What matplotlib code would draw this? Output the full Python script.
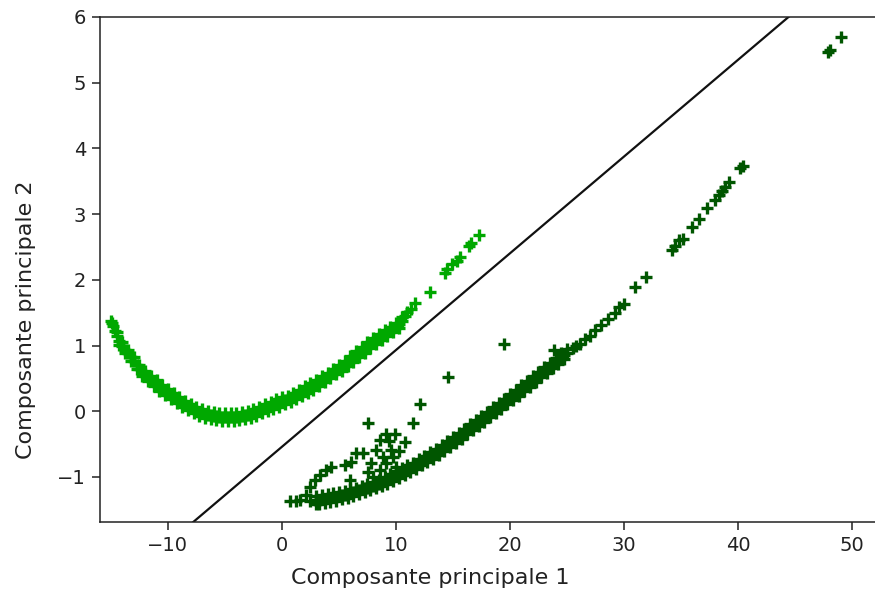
import matplotlib
matplotlib.use("Agg")
import matplotlib.pyplot as plt
import numpy as np

# ---------------- data ----------------
# light green cluster (upper band, lower band, centre band, isolated points)
light_x_up = [-14.5, -14.0, -13.5, -13.0, -12.5, -12.0, -11.5, -11.0, -10.5, -10.0,
              -9.5, -9.0, -8.5, -8.0, -7.5, -7.0, -6.5, -6.0, -5.5, -5.0,
              -4.5, -4.0, -3.5, -3.0, -2.5, -2.0, -1.5, -1.0, -0.5, 0.0,
              0.5, 1.0, 1.5, 2.0, 2.5, 3.0, 3.5, 4.0, 4.5, 5.0,
              5.5, 6.0, 6.5, 7.0, 7.5, 8.0, 8.5, 9.0, 9.5, 10.0, 10.5]
light_y_up = [1.21, 1.06, 0.94, 0.83, 0.71, 0.62, 0.54, 0.47, 0.40, 0.34,
              0.28, 0.22, 0.16, 0.11, 0.07, 0.03, 0.01, -0.01, -0.02, -0.03,
              -0.03, -0.03, -0.01, 0.01, 0.04, 0.07, 0.11, 0.14, 0.18, 0.21,
              0.24, 0.28, 0.33, 0.38, 0.43, 0.48, 0.53, 0.59, 0.65, 0.71,
              0.77, 0.84, 0.91, 0.98, 1.05, 1.11, 1.17, 1.23, 1.29, 1.35, 1.44]
light_x_lo = [-14.25, -13.75, -13.25, -12.75, -12.25, -11.75, -11.25, -10.75, -10.25, -9.75,
              -9.25, -8.75, -8.25, -7.75, -7.25, -6.75, -6.25, -5.75, -5.25, -4.75,
              -4.25, -3.75, -3.25, -2.75, -2.25, -1.75, -1.25, -0.75, -0.25, 0.25,
              0.75, 1.25, 1.75, 2.25, 2.75, 3.25, 3.75, 4.25, 4.75, 5.25,
              5.75, 6.25, 6.75, 7.25, 7.75, 8.25, 8.75, 9.25, 9.75, 10.25]
light_y_lo = [1.01, 0.88, 0.76, 0.65, 0.54, 0.46, 0.38, 0.31, 0.25, 0.19,
              0.13, 0.07, 0.02, -0.03, -0.07, -0.10, -0.12, -0.13, -0.15, -0.15,
              -0.15, -0.14, -0.12, -0.10, -0.07, -0.03, 0.00, 0.04, 0.07, 0.11,
              0.14, 0.18, 0.23, 0.28, 0.33, 0.39, 0.44, 0.50, 0.56, 0.62,
              0.69, 0.75, 0.82, 0.89, 0.96, 1.02, 1.08, 1.14, 1.20, 1.27]
light_x_mid = [-14.5, -14.25, -14.0, -13.75, -13.5, -13.25, -13.0, -12.75, -12.5, -12.25,
               -12.0, -11.75, -11.5, -11.25, -11.0, -10.75, -10.5, -10.25, -10.0, -9.75,
               -9.5, -9.25, -9.0, -8.75, -8.5, -8.25, -8.0, -7.75, -7.5, -7.25,
               -7.0, -6.75, -6.5, -6.25, -6.0, -5.75, -5.5, -5.25, -5.0, -4.75,
               -4.5, -4.25, -4.0, -3.75, -3.5, -3.25, -3.0, -2.75, -2.5, -2.25,
               -2.0, -1.75, -1.5, -1.25, -1.0, -0.75, -0.5, -0.25, 0.0, 0.25,
               0.5, 0.75, 1.0, 1.25, 1.5, 1.75, 2.0, 2.25, 2.5, 2.75,
               3.0, 3.25, 3.5, 3.75, 4.0, 4.25, 4.5, 4.75, 5.0, 5.25,
               5.5, 5.75, 6.0, 6.25, 6.5, 6.75, 7.0, 7.25, 7.5, 7.75,
               8.0, 8.25, 8.5, 8.75, 9.0, 9.25, 9.5, 9.75, 10.0, 10.25, 10.5]
light_y_mid = [1.15, 1.07, 1.00, 0.94, 0.88, 0.82, 0.77, 0.71, 0.65, 0.60,
               0.56, 0.52, 0.48, 0.44, 0.41, 0.37, 0.34, 0.31, 0.28, 0.25,
               0.22, 0.19, 0.16, 0.13, 0.10, 0.08, 0.05, 0.03, 0.01, -0.01,
               -0.03, -0.04, -0.05, -0.06, -0.07, -0.075, -0.08, -0.085, -0.09, -0.09,
               -0.09, -0.09, -0.09, -0.08, -0.07, -0.06, -0.05, -0.035, -0.02, -0.005,
               0.01, 0.03, 0.05, 0.06, 0.08, 0.10, 0.12, 0.13, 0.15, 0.17,
               0.18, 0.20, 0.22, 0.245, 0.27, 0.295, 0.32, 0.345, 0.37, 0.395,
               0.42, 0.45, 0.47, 0.50, 0.53, 0.56, 0.59, 0.62, 0.65, 0.68,
               0.71, 0.75, 0.78, 0.81, 0.85, 0.885, 0.92, 0.955, 0.99, 1.02,
               1.05, 1.08, 1.11, 1.14, 1.17, 1.20, 1.23, 1.26, 1.29, 1.335, 1.38]
light_x_iso = [-15.0, -14.9, -14.8, -14.65, 10.8, 11.0, 11.3, 11.7, 12.95, 14.26,
               14.5, 14.9, 15.37, 15.6, 16.4, 16.6, 17.28]
light_y_iso = [1.38, 1.34, 1.30, 1.22, 1.45, 1.51, 1.56, 1.65, 1.82, 2.10,
               2.16, 2.24, 2.29, 2.35, 2.51, 2.56, 2.69]

# dark green cluster
dark_x_up = [3.0, 3.5, 4.0, 4.5, 5.0, 5.5, 6.0, 6.5, 7.0, 7.5,
             8.0, 8.5, 9.0, 9.5, 10.0, 10.5, 11.0, 11.5, 12.0, 12.5,
             13.0, 13.5, 14.0, 14.5, 15.0, 15.5, 16.0, 16.5, 17.0, 17.5,
             18.0, 18.5, 19.0, 19.5, 20.0, 20.5, 21.0, 21.5, 22.0, 22.5,
             23.0, 23.5, 24.0, 24.5, 25.0]
dark_y_up = [-1.29, -1.28, -1.265, -1.25, -1.23, -1.21, -1.185, -1.16, -1.13, -1.10,
             -1.07, -1.04, -1.00, -0.96, -0.915, -0.87, -0.825, -0.78, -0.73, -0.68,
             -0.625, -0.57, -0.51, -0.45, -0.39, -0.33, -0.265, -0.20, -0.135, -0.07,
             -0.005, 0.06, 0.125, 0.19, 0.26, 0.33, 0.395, 0.46, 0.53, 0.60,
             0.67, 0.74, 0.81, 0.88, 0.95]
dark_x_lo = [3.25, 3.75, 4.25, 4.75, 5.25, 5.75, 6.25, 6.75, 7.25, 7.75,
             8.25, 8.75, 9.25, 9.75, 10.25, 10.75, 11.25, 11.75, 12.25, 12.75,
             13.25, 13.75, 14.25, 14.75, 15.25, 15.75, 16.25, 16.75, 17.25, 17.75,
             18.25, 18.75, 19.25, 19.75, 20.25, 20.75, 21.25, 21.75, 22.25, 22.75,
             23.25, 23.75, 24.25, 24.75]
dark_y_lo = [-1.405, -1.39, -1.38, -1.36, -1.34, -1.32, -1.29, -1.265, -1.235, -1.205,
             -1.175, -1.14, -1.10, -1.06, -1.01, -0.97, -0.92, -0.875, -0.825, -0.77,
             -0.72, -0.66, -0.60, -0.54, -0.48, -0.42, -0.35, -0.29, -0.22, -0.16,
             -0.09, -0.03, 0.04, 0.105, 0.175, 0.24, 0.31, 0.375, 0.445, 0.515,
             0.585, 0.655, 0.725, 0.795]
dark_x_mid = [3.0, 3.25, 3.5, 3.75, 4.0, 4.25, 4.5, 4.75, 5.0, 5.25,
              5.5, 5.75, 6.0, 6.25, 6.5, 6.75, 7.0, 7.25, 7.5, 7.75,
              8.0, 8.25, 8.5, 8.75, 9.0, 9.25, 9.5, 9.75, 10.0, 10.25,
              10.5, 10.75, 11.0, 11.25, 11.5, 11.75, 12.0, 12.25, 12.5, 12.75,
              13.0, 13.25, 13.5, 13.75, 14.0, 14.25, 14.5, 14.75, 15.0, 15.25,
              15.5, 15.75, 16.0, 16.25, 16.5, 16.75, 17.0, 17.25, 17.5, 17.75,
              18.0, 18.25, 18.5, 18.75, 19.0, 19.25, 19.5, 19.75, 20.0, 20.25,
              20.5, 20.75, 21.0, 21.25, 21.5, 21.75, 22.0, 22.25, 22.5, 22.75,
              23.0, 23.25, 23.5, 23.75, 24.0, 24.25, 24.5, 24.75, 25.0]
dark_y_mid = [-1.35, -1.345, -1.34, -1.33, -1.325, -1.32, -1.31, -1.30, -1.29, -1.28,
              -1.27, -1.26, -1.245, -1.23, -1.22, -1.205, -1.19, -1.175, -1.16, -1.145,
              -1.13, -1.115, -1.10, -1.08, -1.06, -1.04, -1.02, -1.00, -0.975, -0.95,
              -0.93, -0.91, -0.885, -0.86, -0.84, -0.815, -0.79, -0.765, -0.74, -0.71,
              -0.685, -0.66, -0.63, -0.60, -0.57, -0.54, -0.51, -0.48, -0.45, -0.42,
              -0.39, -0.36, -0.325, -0.29, -0.26, -0.23, -0.195, -0.16, -0.13, -0.10,
              -0.065, -0.03, 0.0, 0.03, 0.065, 0.10, 0.13, 0.165, 0.20, 0.235,
              0.27, 0.30, 0.335, 0.37, 0.40, 0.435, 0.47, 0.505, 0.54, 0.575,
              0.61, 0.645, 0.68, 0.715, 0.75, 0.785, 0.82, 0.855, 0.89]
dark_x_iso = [0.7, 1.2, 1.6, 2.15, 2.5, 3.0,
              2.45, 2.9, 3.3, 3.9, 4.3, 5.5, 6.09, 6.53, 7.1, 7.83, 8.28, 8.57,
              9.16, 9.9, 10.76, 9.6, 8.57, 9.16, 10.0, 5.95, 7.55, 9.4, 8.9, 8.0,
              9.7, 10.3, 7.55, 11.5, 12.07, 14.56, 19.5, 23.9,
              25.5, 25.8, 26.1, 26.6, 27.0, 27.5, 28.0, 28.6, 29.2, 29.6,
              30.0, 31.0, 31.9, 34.2, 34.5, 34.8, 35.2, 36.0, 36.6, 37.3,
              38.0, 38.3, 38.6, 38.9, 39.2, 40.2, 40.4, 47.9, 48.1, 49.0]
dark_y_iso = [-1.36, -1.36, -1.35, -1.28, -1.37, -1.41,
              -1.15, -1.05, -0.97, -0.90, -0.85, -0.82, -0.77, -0.64, -0.64, -0.79, -0.59, -0.44,
              -0.34, -0.34, -0.47, -0.59, -0.90, -0.79, -0.85, -1.05, -0.92, -0.45, -0.70, -1.00,
              -0.70, -0.60, -0.18, -0.18, 0.11, 0.52, 1.03, 0.93,
              0.96, 1.00, 1.03, 1.10, 1.15, 1.23, 1.31, 1.40, 1.50, 1.59,
              1.63, 1.89, 2.04, 2.45, 2.52, 2.60, 2.62, 2.80, 2.93, 3.09,
              3.22, 3.29, 3.35, 3.41, 3.49, 3.70, 3.73, 5.47, 5.50, 5.70]

# separating line y = slope * x + intercept
line_slope = 0.1472
line_intercept = -0.54

x_ticks = [-10, 0, 10, 20, 30, 40, 50]
y_ticks = [-1, 0, 1, 2, 3, 4, 5, 6]
x_label = "Composante principale 1"
y_label = "Composante principale 2"

# ---------------- figure ----------------
LIGHT = "#00a800"
DARK = "#005600"

fig = plt.figure(figsize=(8.75, 5.96), dpi=100)
ax = fig.add_axes([100 / 875, 74 / 596, 778 / 875, 505 / 596])

mk = dict(linestyle="none", marker="+", markersize=9, markeredgewidth=2.4)
for xs, ys in [(light_x_up, light_y_up), (light_x_lo, light_y_lo),
               (light_x_mid, light_y_mid), (light_x_iso, light_y_iso)]:
    ax.plot(xs, ys, color=LIGHT, **mk)
for xs, ys in [(dark_x_up, dark_y_up), (dark_x_lo, dark_y_lo),
               (dark_x_mid, dark_y_mid), (dark_x_iso, dark_y_iso)]:
    ax.plot(xs, ys, color=DARK, **mk)

xlim = (-15.96, 52.28)
ylim = (-1.685, 6.0)
lx = np.array(xlim)
ax.plot(lx, line_slope * lx + line_intercept, color="#111111", linewidth=1.6)

ax.set_xlim(*xlim)
ax.set_ylim(*ylim)
ax.set_xticks(x_ticks)
ax.set_yticks(y_ticks)
ax.tick_params(labelsize=14, length=6, width=1.1, pad=4, colors="#222222")
for s in ax.spines.values():
    s.set_linewidth(1.1)
    s.set_color("#222222")

ax.set_xlabel(x_label, fontsize=16, color="#222222")
ax.set_ylabel(y_label, fontsize=16, color="#222222")
ax.xaxis.set_label_coords(0.424, -0.092)
ax.yaxis.set_label_coords(-0.082, 0.40)

fig.savefig("out.png", dpi=100)
